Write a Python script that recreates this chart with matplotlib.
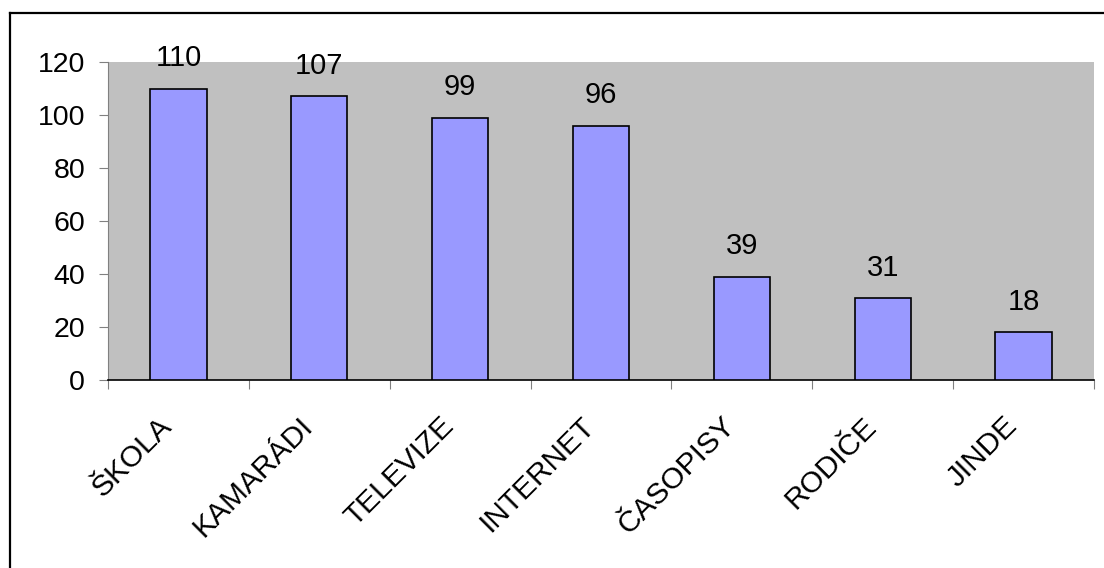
import matplotlib.pyplot as plt
from matplotlib.lines import Line2D
from matplotlib.transforms import ScaledTranslation

categories = ['ŠKOLA', 'KAMARÁDI', 'TELEVIZE', 'INTERNET', 'ČASOPISY', 'RODIČE', 'JINDE']
values = [110, 107, 99, 96, 39, 31, 18]
y_ticks = [0, 20, 40, 60, 80, 100, 120]

plt.rcParams['font.family'] = ['Liberation Sans', 'DejaVu Sans']

fig = plt.figure(figsize=(11.04, 5.68), dpi=100)
ax = fig.add_axes([108 / 1104, 1 - 380 / 568, (1094 - 108) / 1104, (380 - 62) / 568])
ax.set_facecolor('#C0C0C0')

x = list(range(len(categories)))
ax.bar(x, values, width=0.4, color='#9999FF', edgecolor='black', linewidth=1.2, zorder=3)

for xi, v in zip(x, values):
    ax.annotate(str(v), (xi, v), xytext=(0, 16), textcoords='offset points',
                ha='center', va='baseline', fontsize=21)

ax.set_xlim(-0.5, len(categories) - 0.5)
ax.set_ylim(0, 120)
ax.set_yticks(y_ticks)
ax.tick_params(axis='y', labelsize=20.5, length=6.5, color='#808080', pad=10)

# category boundaries get the tick marks, centres get the labels
ax.set_xticks([i - 0.5 for i in range(len(categories) + 1)])
ax.set_xticklabels([])
ax.set_xticks(x, minor=True)
ax.set_xticklabels(categories, minor=True, rotation=45, ha='right',
                   va='center', rotation_mode='anchor', fontsize=21.5)
ax.tick_params(axis='x', which='major', length=6.5, color='#808080', direction='out')
ax.tick_params(axis='x', which='minor', length=0, pad=38)
shift = ScaledTranslation(-0.11, 0.11, fig.dpi_scale_trans)
for lbl in ax.get_xticklabels(minor=True):
    lbl.set_transform(lbl.get_transform() + shift)

for s in ['top', 'right']:
    ax.spines[s].set_visible(False)
ax.spines['left'].set_color('#808080')
ax.spines['left'].set_bounds(0, 120)
ax.spines['bottom'].set_color('black')
ax.spines['bottom'].set_linewidth(1.2)

# outer chart frame (only top and left edges fall inside the picture)
fig.add_artist(Line2D([9.5 / 1104, 1.01], [1 - 12.5 / 568] * 2, color='black', lw=1.6,
                      transform=fig.transFigure))
fig.add_artist(Line2D([9.5 / 1104] * 2, [-0.01, 1 - 12.5 / 568], color='black', lw=1.6,
                      transform=fig.transFigure))

fig.savefig('out.png', dpi=100)
